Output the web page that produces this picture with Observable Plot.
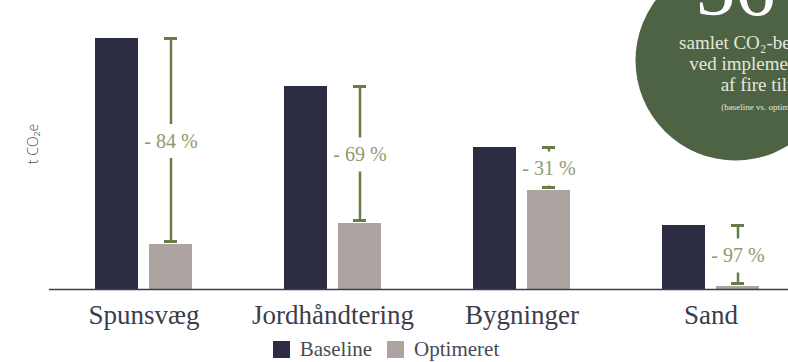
<!DOCTYPE html>
<html>
<head>
<meta charset="utf-8">
<script src="https://cdn.jsdelivr.net/npm/d3@7"></script>
<script src="https://cdn.jsdelivr.net/npm/@observablehq/plot@0.6"></script>
<style>
  html, body { margin: 0; padding: 0; background: #ffffff; overflow: hidden; }
  #chart svg { display: block; overflow: hidden; }
  .legend { display: flex; justify-content: center; align-items: center; gap: 15px; height: 26px;
    font-family: "Liberation Serif", serif; font-size: 21px; color: #4a4a58; padding-right: 16px; }
  .legend span.sw { display: inline-block; width: 17px; height: 17px; margin-right: 10px; vertical-align: -2px; }
</style>
</head>
<body>
<div id="chart"></div>
<div class="legend" id="legend"></div>
<script>
const categories = ["Spunsvæg", "Jordhåndtering", "Bygninger", "Sand"];
const baseline = [251, 203, 142, 64];
const optimeret = [45, 66, 99, 3];
const reductionLabels = ["- 84 %", "- 69 %", "- 31 %", "- 97 %"];
const seriesNames = ["Baseline", "Optimeret"];
const seriesColors = ["#2c2d42", "#ada3a1"];
const yLabel = "t CO₂e";
const badgeValue = "56 %";
const badgeText = "samlet CO₂-besparelse\nved implementering\naf fire tiltag";
const badgeNote = "(baseline vs. optimeret)";

const W = 788, H = 336, mT = 38, mB = 47, mL = 49, mR = -17;
const yMax = 251;
const unitsPerPx = yMax / (H - mT - mB);
const gap = 17 * unitsPerPx;
const capOffset = 3 * unitsPerPx;

const rows = categories.map((c, i) => ({
  cat: c, base: baseline[i], opt: optimeret[i], label: reductionLabels[i],
  mid: (baseline[i] + optimeret[i]) / 2
}));
const topSeg = rows.filter(d => d.base > d.mid + gap);
const botSeg = rows.filter(d => d.mid - gap > d.opt + capOffset);

const green = "#687c45";
const labelGreen = "#8d9b6e";
const band = (W - mR - mL) / categories.length; // 189
const bracketInset = 115;

const chart = Plot.plot({
  width: W, height: H,
  marginTop: mT, marginBottom: mB, marginLeft: mL, marginRight: mR,
  x: {domain: categories, padding: 0, axis: null},
  y: {domain: [0, yMax], axis: null},
  style: {fontFamily: "Liberation Serif, serif", background: "#ffffff", overflow: "hidden"},
  marks: [
    // badge circle
    Plot.dot([0], {frameAnchor: "top-right", r: 100, fill: "#4d6343", dx: -70, dy: 22}),
    Plot.text([badgeValue], {text: d => d, frameAnchor: "top-right", dx: -27, dy: -80,
      fontSize: 80, fill: "#ffffff", lineAnchor: "top", textAnchor: "middle"}),
    Plot.text([badgeText], {text: d => d, frameAnchor: "top-right", dx: -40, dy: -4.5,
      fontSize: 19, fill: "#e6e7de", lineAnchor: "top", textAnchor: "middle", lineHeight: 1.1}),
    Plot.text([badgeNote], {text: d => d, frameAnchor: "top-right", dx: -42, dy: 65.5,
      fontSize: 9, fill: "#e6e7de", lineAnchor: "top", textAnchor: "middle"}),
    // bars
    Plot.barY(rows, {x: "cat", y: "base", fill: seriesColors[0], insetLeft: 46, insetRight: band - 89}),
    Plot.barY(rows, {x: "cat", y: "opt", fill: seriesColors[1], insetLeft: 100, insetRight: band - 143}),
    Plot.ruleY([0], {stroke: "#3b3d52", strokeWidth: 1.5}),
    // brackets
    Plot.ruleX(topSeg, {x: "cat", y1: "base", y2: d => d.mid + gap, dx: 27, stroke: green, strokeWidth: 2.5}),
    Plot.ruleX(botSeg, {x: "cat", y1: d => d.mid - gap, y2: d => d.opt + capOffset, dx: 27, stroke: green, strokeWidth: 2.5}),
    Plot.tickY(rows, {x: "cat", y: "base", stroke: green, strokeWidth: 3, insetLeft: bracketInset, insetRight: band - bracketInset - 13}),
    Plot.tickY(rows, {x: "cat", y: d => d.opt + capOffset, stroke: green, strokeWidth: 3, insetLeft: bracketInset, insetRight: band - bracketInset - 13}),
    Plot.text(rows, {x: "cat", y: "mid", text: "label", dx: 27, fontSize: 20, fill: labelGreen}),
    // category labels
    Plot.text(rows, {x: "cat", y: 0, text: "cat", dy: 26, fontSize: 27, fill: "#3c3c4c"}),
    // y label
    Plot.text([yLabel], {text: d => d, frameAnchor: "left", dx: -16, rotate: -90,
      fontSize: 14, fill: "#4a4a4a", fontFamily: "Open Sans, sans-serif", fontWeight: 300})
  ]
});
document.getElementById("chart").appendChild(chart);

const legend = document.getElementById("legend");
seriesNames.forEach((name, i) => {
  const item = document.createElement("div");
  item.innerHTML = `<span class="sw" style="background:${seriesColors[i]}"></span>${name}`;
  legend.appendChild(item);
});
</script>
</body>
</html>
